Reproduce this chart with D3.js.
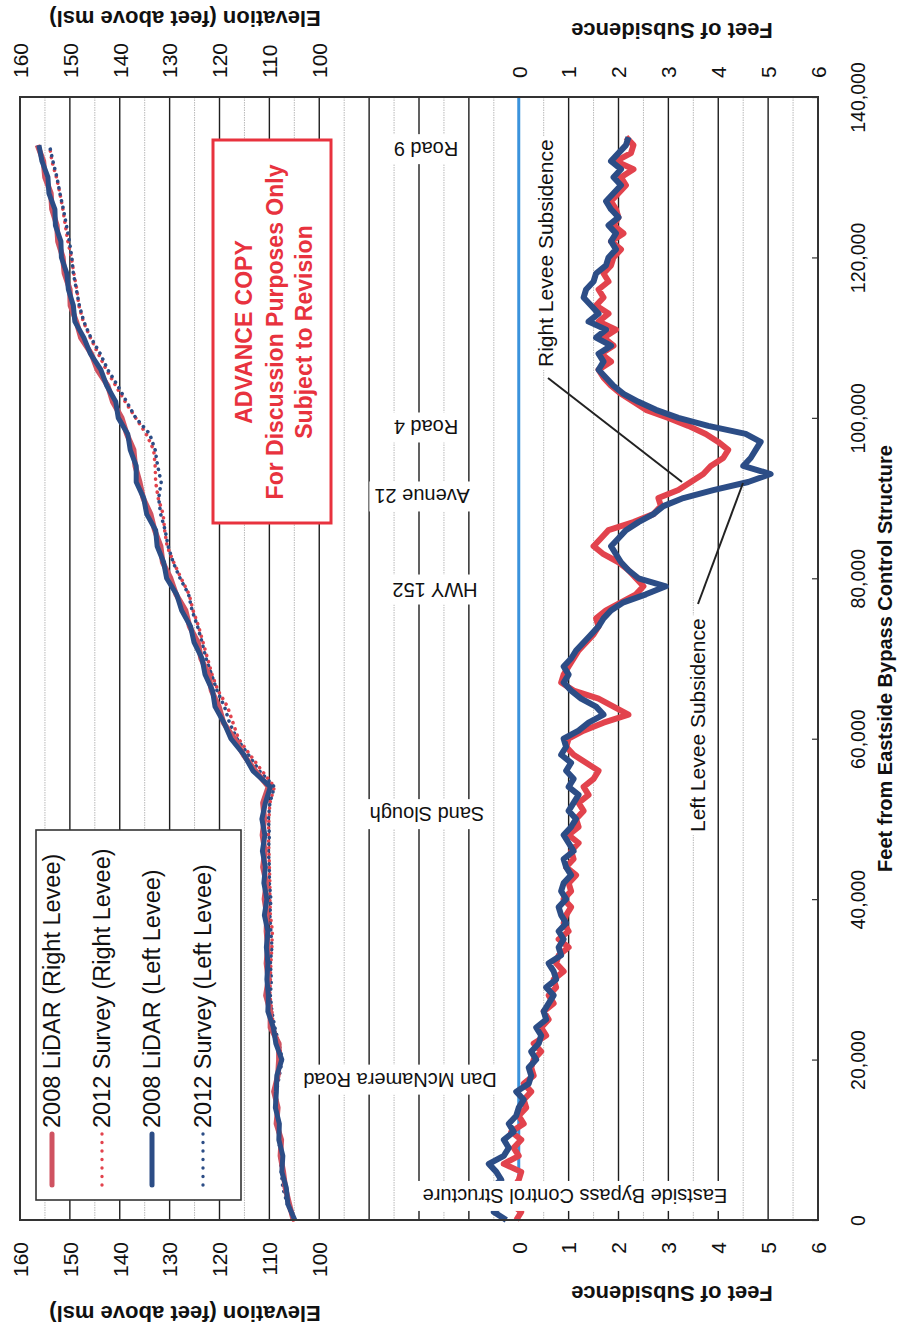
<!DOCTYPE html>
<html><head><meta charset="utf-8">
<script src="https://cdn.jsdelivr.net/npm/d3@7"></script>
<style>
body{margin:0;background:#fff}
svg{display:block}
text{font-family:"Liberation Sans",Arial,Helvetica,sans-serif}
</style>
</head><body>
<svg id="chart" width="916" height="1338"></svg>
<script>
// ---------- DATA ----------
// distance (thousand feet) for subsidence series
const subsDistK = [0,1,2,3,4,5,6,7,8,9,10,11,12,13,14,15,16,17,18,19,20,21,22,23,24,25,26,27,28,29,30,31,32,33,34,35,36,37,38,39,40,41,42,43,44,45,46,47,48,49,50,51,52,53,54,55,56,57,58,59,60,61,62,63,64,65,66,67,68,69,70,71,72,73,74,75,76,77,78,79,80,81,82,83,84,85,86,87,88,89,90,91,92,93,94,95,96,97,98,99,100,101,102,103,104,105,106,107,108,109,110,111,112,113,114,115,116,117,118,119,120,121,122,123,124,125,126,127,128,129,130,131,132,133,134,135];
const rightSubsidence = [
-0.05,0.05,-0.15,0.1,-0.1,0.0,0.05,-0.3,0.0,-0.1,
0.05,-0.15,0.1,0.0,0.15,0.1,0.25,0.1,0.3,0.25,
0.3,0.45,0.3,0.55,0.45,0.6,0.5,0.7,0.6,0.75,
0.7,0.9,0.75,0.8,1.0,0.8,1.0,0.9,0.95,1.05,
0.9,1.05,1.0,1.15,0.95,1.1,1.05,1.2,1.0,1.2,
1.15,1.3,1.2,1.4,1.3,1.5,1.6,1.35,1.1,0.95,
1.0,1.3,1.7,2.2,1.9,1.6,1.1,0.85,0.9,1.0,
1.1,1.2,1.35,1.5,1.6,1.55,1.75,2.05,2.35,2.5,
2.35,2.2,2.0,1.7,1.5,1.65,1.8,2.3,2.7,2.85,
2.8,3.2,3.45,3.7,3.85,4.1,4.2,4.0,3.75,3.4,
3.0,2.55,2.3,2.05,1.85,1.7,1.6,1.85,1.65,1.9,
1.7,1.95,1.6,1.8,1.55,1.7,1.6,1.8,1.7,1.85,
1.9,2.05,1.85,2.1,1.9,2.0,1.95,1.85,2.0,2.15,
2.05,2.3,1.95,2.25,2.3,2.15];
const leftSubsidence = [
-0.25,-0.5,-0.3,-0.6,-0.55,-0.35,-0.45,-0.6,-0.3,-0.2,
-0.3,-0.1,-0.2,-0.05,0.0,0.1,-0.05,0.2,0.25,0.2,
0.35,0.25,0.4,0.45,0.35,0.55,0.5,0.6,0.7,0.55,
0.75,0.7,0.6,0.85,0.8,0.9,0.8,0.95,0.85,0.8,
0.95,0.85,0.9,1.05,0.95,0.9,1.1,1.0,0.9,1.05,
1.15,1.0,1.1,1.2,1.0,1.1,0.95,1.05,0.85,0.95,
0.9,1.2,1.4,1.7,1.55,1.25,1.05,0.9,1.0,0.9,
1.05,1.15,1.3,1.45,1.6,1.7,1.85,2.1,2.55,2.95,
2.4,2.2,2.05,1.95,1.85,2.0,2.15,2.4,2.7,2.9,
3.3,3.9,4.6,5.05,4.5,4.65,4.75,4.85,4.55,3.8,
3.2,2.75,2.4,2.1,1.9,1.75,1.6,1.7,1.6,1.85,
1.55,1.75,1.4,1.6,1.45,1.3,1.35,1.5,1.55,1.75,
1.8,1.95,1.85,1.95,1.8,2.0,1.85,1.75,1.9,2.05,
1.9,2.05,1.85,2.0,2.15,2.2];

// distance (thousand feet) for elevation series
const elevDistK = [0,2,4,6,8,10,12,14,16,18,20,22,24,26,28,30,32,34,36,38,40,42,44,46,48,50,52,54,56,58,60,62,64,66,68,70,72,74,76,78,80,82,84,86,88,90,92,94,96,98,100,102,104,106,108,110,112,114,116,118,120,122,124,126,128,130,132,134];
const lidarRight = [105.2,106.0,106.8,107.2,107.8,107.6,108.6,108.3,109.1,108.3,108.1,108.1,109.8,109.8,110.7,110.2,110.6,110.3,110.6,110.5,111.0,110.6,111.3,110.9,111.4,111.0,111.3,110.2,112.8,115.2,117.0,119.2,120.1,121.6,122.2,123.7,124.3,126.0,126.8,128.7,129.8,131.4,131.8,133.0,133.8,135.3,136.0,136.9,137.2,138.6,139.6,141.4,142.4,144.5,145.7,147.8,148.7,149.9,150.0,151.1,151.4,152.4,152.6,153.6,153.8,155.0,155.3,156.5];
const surveyRight = [105.2,106.4,106.7,107.5,107.6,107.8,108.3,108.4,108.7,108.2,107.6,108.0,109.2,109.5,109.9,109.8,109.7,109.5,109.4,109.8,109.9,109.9,110.0,110.1,110.2,110.1,109.9,109.0,111.5,113.9,116.2,117.3,118.4,120.3,121.5,122.4,123.3,124.2,125.3,126.1,127.7,129.2,130.5,131.0,131.3,132.3,132.8,132.9,133.2,134.7,136.8,138.9,140.8,142.7,144.3,145.9,147.3,148.2,148.6,149.2,149.7,150.4,150.9,151.4,152.0,152.7,153.6,154.1];
const lidarLeft = [104.9,106.3,106.6,107.5,107.3,108.1,108.0,108.8,108.6,108.5,107.5,108.7,109.2,110.3,110.2,110.5,110.3,110.6,110.3,111.0,110.5,111.1,110.8,111.4,110.9,111.5,110.8,109.8,113.3,115.1,117.7,119.1,120.9,121.4,122.9,123.5,125.1,125.8,127.6,128.6,130.6,131.2,132.5,132.8,134.6,135.2,136.7,136.7,137.9,138.4,140.3,140.8,142.6,143.8,145.9,147.2,149.0,149.3,150.3,150.6,151.7,151.8,152.9,153.0,154.2,154.4,155.6,156.2];
const surveyLeft = [105.2,106.4,107.3,107.6,107.8,108.1,108.3,108.5,108.6,108.0,107.4,108.1,108.9,109.5,109.8,109.6,109.8,109.5,109.7,109.9,109.7,110.0,110.0,110.2,110.0,110.2,109.9,109.0,112.0,114.2,116.5,118.0,119.0,120.5,121.6,122.7,123.5,124.4,125.5,126.2,127.9,129.3,130.3,130.9,131.8,132.2,131.7,132.4,132.9,134.0,136.8,138.6,140.4,142.4,143.9,145.8,147.2,148.1,148.7,149.3,149.6,150.1,150.7,151.3,152.0,152.6,153.4,154.1];

const elevTickLabels = [160,150,140,130,120,110,100];
const subsTickLabels = [0,1,2,3,4,5,6];
const distTicks = [0,20000,40000,60000,80000,100000,120000,140000];

const roadLabels = ["Road 9","Road 4","Avenue 21","HWY 152","Sand Slough","Dan McNamera Road","Eastside Bypass Control Structure"];
const roadDistK = [133.5,98.8,90.2,78.6,50.6,17.5,3.0];

const legendLabels = ["2008 LiDAR (Right Levee)","2012 Survey (Right Levee)","2008 LiDAR (Left Levee)","2012 Survey (Left Levee)"];

// ---------- LAYOUT ----------
const L=20, R=818, T=97, B=1220;
const RED="#e2434d", REDL="#cf5361", BLUE="#2c4d86", ZERO="#3b93dc";
const svg = d3.select("#chart");

const yDist = d3.scaleLinear().domain([0,140000]).range([B,T]);
const xElev = d3.scaleLinear().domain([160,0]).range([L,R]);
const xSubs = d3.scaleLinear().domain([-10,6]).range([L,R]);

// gridlines (elevation every 5 ft)
const grid = svg.append("g");
d3.range(5,160,10).forEach(v=>{
  grid.append("line").attr("x1",xElev(v)).attr("x2",xElev(v)).attr("y1",T).attr("y2",B)
    .attr("stroke","#b9b9b9").attr("stroke-width",1).attr("stroke-dasharray","1.5 1");
});
d3.range(10,160,10).forEach(v=>{
  grid.append("line").attr("x1",xElev(v)).attr("x2",xElev(v)).attr("y1",T).attr("y2",B)
    .attr("stroke","#1e1e1e").attr("stroke-width",1.4);
});
// zero subsidence line
svg.append("line").attr("x1",xSubs(0)).attr("x2",xSubs(0)).attr("y1",T).attr("y2",B)
  .attr("stroke",ZERO).attr("stroke-width",3);

// ---------- DATA LINES ----------
const subsLine = d3.line().x(d=>xSubs(d[1])).y(d=>yDist(d[0]*1000));
const elevLine = d3.line().x(d=>xElev(d[1])).y(d=>yDist(d[0]*1000));
const zipS = arr => subsDistK.map((k,i)=>[k,arr[i]]);
const zipE = arr => elevDistK.map((k,i)=>[k,arr[i]]);

const dataG = svg.append("g").attr("fill","none").attr("stroke-linejoin","round");
dataG.append("path").attr("d",subsLine(zipS(rightSubsidence))).attr("stroke",RED).attr("stroke-width",6);
dataG.append("path").attr("d",subsLine(zipS(leftSubsidence))).attr("stroke",BLUE).attr("stroke-width",6);

dataG.append("path").attr("d",elevLine(zipE(surveyRight))).attr("stroke",RED).attr("stroke-width",3.6)
  .attr("stroke-linecap","round").attr("stroke-dasharray","0.1 6.5");
dataG.append("path").attr("d",elevLine(zipE(surveyLeft))).attr("stroke",BLUE).attr("stroke-width",3.6)
  .attr("stroke-linecap","round").attr("stroke-dasharray","0.1 6.5").attr("stroke-dashoffset",3);
dataG.append("path").attr("d",elevLine(zipE(lidarRight))).attr("stroke",REDL).attr("stroke-width",5.5);
dataG.append("path").attr("d",elevLine(zipE(lidarLeft))).attr("stroke",BLUE).attr("stroke-width",5);

// ---------- helper for boxed text ----------
function boxedText(x,y,rot,txt,opt){
  const g = svg.append("g").attr("transform",`translate(${x},${y}) rotate(${rot})`);
  const r = g.append("rect").attr("fill","#fff");
  const t = g.append("text").text(txt)
    .attr("text-anchor",opt.anchor||"middle").attr("dominant-baseline","central")
    .attr("font-size",opt.size).attr("font-weight",opt.weight||"normal").attr("fill",opt.fill||"#111");
  const bb = t.node().getBBox();
  const px = opt.padX==null?4:opt.padX, py = opt.padY==null?2:opt.padY;
  r.attr("x",bb.x-px).attr("y",bb.y-py).attr("width",bb.width+2*px).attr("height",bb.height+2*py);
  return g;
}

// road labels (upside-down)
const roadX = [426,426,422,435,427,400,575];
roadLabels.forEach((s,i)=>{
  boxedText(roadX[i], yDist(roadDistK[i]*1000), 180, s, {size:20, padX:5, padY:4});
});

// ---------- frame ----------
svg.append("rect").attr("x",L).attr("y",T).attr("width",R-L).attr("height",B-T)
  .attr("fill","none").attr("stroke","#333").attr("stroke-width",2);

// ---------- axes ----------
const axR = svg.append("g").attr("transform",`translate(${R},0)`)
  .call(d3.axisRight(yDist).tickValues(distTicks).tickSize(-6).tickSizeOuter(0).tickFormat(d3.format(",")));
axR.select(".domain").remove();
axR.selectAll("line").attr("stroke","#333").attr("stroke-width",1.2);
axR.selectAll("text").attr("x",0).attr("y",0).attr("dy","0.35em")
  .attr("transform","translate(40,0) rotate(-90)").attr("text-anchor","middle")
  .attr("font-size",19.5).attr("font-family","Liberation Sans, Arial, sans-serif").attr("fill","#111");

function valueAxis(scale, vals, pos){
  const isTop = pos==="top";
  const ax = svg.append("g").attr("transform",`translate(0,${isTop?T:B})`)
    .call((isTop?d3.axisTop(scale):d3.axisBottom(scale)).tickValues(vals).tickSize(0));
  ax.select(".domain").remove();
  ax.selectAll("text").attr("x",0).attr("y",0).attr("dy","0.35em")
    .attr("transform", isTop? "translate(0,-19) rotate(-90)" : "translate(0,22) rotate(-90)")
    .attr("text-anchor", isTop? "start":"end")
    .attr("font-size",21).attr("font-family","Liberation Sans, Arial, sans-serif").attr("fill","#111");
}
valueAxis(xElev, elevTickLabels, "top");
valueAxis(xElev, elevTickLabels, "bottom");
valueAxis(xSubs, subsTickLabels, "top");
valueAxis(xSubs, subsTickLabels, "bottom");

function title(x,y,rot,txt,size){
  svg.append("text").attr("transform",`translate(${x},${y}) rotate(${rot})`)
    .attr("text-anchor","middle").attr("dominant-baseline","central")
    .attr("font-size",size).attr("font-weight","bold").attr("fill","#111").text(txt);
}
title(185,18,180,"Elevation (feet above msl)",22);
title(672,30,180,"Feet of Subsidence",22);
title(185,1313,180,"Elevation (feet above msl)",22);
title(672,1293,180,"Feet of Subsidence",22);
title(885,(T+B)/2,-90,"Feet from Eastside Bypass Control Structure",20);

// ---------- annotations ----------
svg.append("line").attr("x1",548).attr("y1",378).attr("x2",682).attr("y2",482).attr("stroke","#222").attr("stroke-width",2);
svg.append("line").attr("x1",698).attr("y1",604).attr("x2",743).attr("y2",483).attr("stroke","#222").attr("stroke-width",2);
boxedText(545,367,-90,"Right Levee Subsidence",{size:21, anchor:"start", padX:3, padY:2});
boxedText(697,832,-90,"Left Levee Subsidence",{size:21, anchor:"start", padX:3, padY:2});

// ---------- legend ----------
const lg = svg.append("g");
lg.append("rect").attr("x",36).attr("y",830).attr("width",205).attr("height",370)
  .attr("fill","#fff").attr("stroke","#333").attr("stroke-width",1.6);
const legX = [52,102,152,203];
const legColor = [REDL,RED,BLUE,BLUE];
const legDotted = [false,true,false,true];
legendLabels.forEach((s,i)=>{
  const ln = lg.append("line").attr("x1",legX[i]).attr("x2",legX[i]).attr("y1",1134).attr("y2",1185)
    .attr("stroke",legColor[i]).attr("stroke-linecap","round");
  if(legDotted[i]) ln.attr("stroke-width",3.4).attr("stroke-dasharray","0.1 8.4");
  else ln.attr("stroke-width",5);
  lg.append("text").attr("transform",`translate(${legX[i]},1128) rotate(-90)`)
    .attr("text-anchor","start").attr("dominant-baseline","central")
    .attr("font-size",23.5).attr("fill","#111").text(s);
});

// ---------- advance copy box ----------
const ac = svg.append("g");
ac.append("rect").attr("x",213).attr("y",140).attr("width",118).attr("height",383)
  .attr("fill","#fff").attr("stroke","#e8323e").attr("stroke-width",3);
const acLines = ["ADVANCE COPY","For Discussion Purposes Only","Subject to Revision"];
const acX = [244,275,304];
acLines.forEach((s,i)=>{
  ac.append("text").attr("transform",`translate(${acX[i]},332) rotate(-90)`)
    .attr("text-anchor","middle").attr("dominant-baseline","central")
    .attr("font-size",23).attr("font-weight","bold").attr("fill","#e8323e").text(s);
});
</script>
</body></html>
